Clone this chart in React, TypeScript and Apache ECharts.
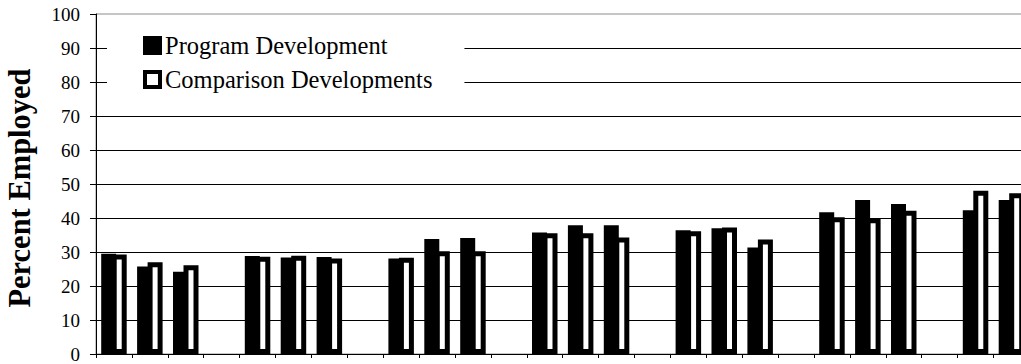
import React, { useEffect, useRef } from "react";
import * as echarts from "echarts";

const categories = [
  "A1", "A2", "A3", "gap1",
  "B1", "B2", "B3", "gap2",
  "C1", "C2", "C3", "gap3",
  "D1", "D2", "D3", "gap4",
  "E1", "E2", "E3", "gap5",
  "F1", "F2", "F3", "gap6",
  "G1", "G2",
];

const programDevelopment = [
  29.5, 25.7, 24.2, null,
  28.8, 28.4, 28.5, null,
  28.1, 33.8, 34.1, null,
  35.7, 37.9, 37.9, null,
  36.4, 37.0, 31.3, null,
  41.7, 45.3, 44.1, null,
  42.3, 45.3,
];

const comparisonDevelopments = [
  29.3, 27.0, 26.1, null,
  28.6, 28.9, 28.1, null,
  28.3, 30.2, 30.2, null,
  35.5, 35.5, 34.3, null,
  36.1, 37.2, 33.7, null,
  40.2, 39.9, 42.1, null,
  48.0, 47.3,
];

const yTicks = { min: 0, max: 100, interval: 10 };

const FONT = "Liberation Serif";

export default function App() {
  const ref = useRef<HTMLDivElement>(null);

  useEffect(() => {
    if (!ref.current) return;
    const chart = echarts.init(ref.current, undefined, { renderer: "svg" });
    chart.setOption({
      animation: false,
      backgroundColor: "#fff",
      textStyle: { fontFamily: FONT },
      grid: {
        left: 96,
        top: 14,
        bottom: 10,
        right: 10.6,
        containLabel: false,
        outerBoundsMode: "none",
        show: true,
        borderColor: "#8c8c8c",
        borderWidth: 1,
        backgroundColor: "transparent",
      },
      legend: {
        orient: "vertical",
        left: 107,
        top: 22,
        padding: [11, 32, 10, 36],
        backgroundColor: "#fff",
        itemWidth: 15,
        itemHeight: 15,
        itemGap: 9,
        icon: "rect",
        textStyle: {
          fontFamily: FONT,
          fontSize: 24.5,
          lineHeight: 25,
          color: "#000",
        },
        data: [
          {
            name: "Program Development",
            itemStyle: { color: "#000", borderColor: "#000", borderWidth: 4 },
          },
          {
            name: "Comparison Developments",
            itemStyle: { color: "#fff", borderColor: "#000", borderWidth: 4 },
          },
        ],
      },
      xAxis: {
        type: "category",
        data: categories,
        boundaryGap: true,
        z: 3,
        axisLine: { show: true, lineStyle: { color: "#000", width: 1 } },
        axisTick: {
          show: true,
          inside: false,
          length: 4,
          alignWithLabel: false,
          interval: 0,
          lineStyle: { color: "#000" },
        },
        axisLabel: { show: false },
        splitLine: { show: false },
      },
      yAxis: {
        type: "value",
        min: yTicks.min,
        max: yTicks.max,
        interval: yTicks.interval,
        name: "Percent Employed",
        nameLocation: "middle",
        nameRotate: 90,
        nameGap: 61,
        nameTextStyle: {
          fontFamily: FONT,
          fontSize: 30.5,
          fontWeight: "bold",
          color: "#000",
          padding: [0, 8, 0, 0],
        },
        axisLine: { show: true, lineStyle: { color: "#000", width: 1 } },
        axisTick: { show: true, inside: false, length: 6, lineStyle: { color: "#000" } },
        axisLabel: {
          fontFamily: FONT,
          fontSize: 19,
          color: "#000",
          margin: 16,
        },
        splitLine: {
          show: true,
          showMaxLine: false,
          lineStyle: { color: "#000", width: 1 },
        },
      },
      series: [
        {
          name: "Program Development",
          type: "bar",
          data: programDevelopment,
          barWidth: 15,
          barGap: "-30%",
          itemStyle: { color: "#000", borderWidth: 0 },
        },
        {
          name: "Comparison Developments",
          type: "bar",
          data: comparisonDevelopments,
          barWidth: 15,
          barGap: "-30%",
          itemStyle: { color: "#fff", borderColor: "#000", borderWidth: 5 },
        },
      ],
    });
    return () => chart.dispose();
  }, []);

  return (
    <div
      style={{
        position: "fixed",
        left: 0,
        top: 0,
        width: 1021,
        height: 364,
        overflow: "hidden",
        background: "#fff",
      }}
    >
      <div ref={ref} style={{ width: 1040, height: 364 }} />
    </div>
  );
}
